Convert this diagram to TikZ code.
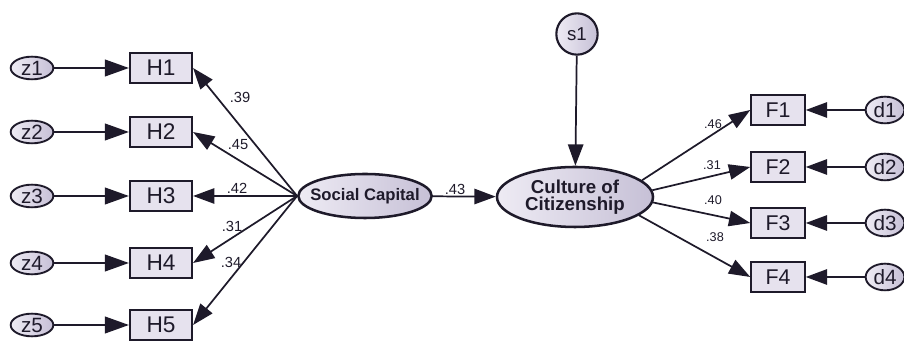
\documentclass[tikz,border=0pt]{standalone}
\usepackage{fontspec}
\setmainfont{Liberation Sans}
\usetikzlibrary{arrows.meta,shapes.geometric}
\definecolor{boxfill}{HTML}{E6E2EE}
\definecolor{ellL}{HTML}{EEEBF4}
\definecolor{ellR}{HTML}{C6C0D6}
\definecolor{ink}{HTML}{1E1A2A}
\begin{document}
\begin{tikzpicture}[x=0.75pt,y=-0.75pt,
  obs/.style={draw=ink,line width=1.6pt,fill=boxfill,minimum width=46.5pt,minimum height=22pt,inner sep=0pt,font=\fontsize{17}{17}\selectfont,text=ink},
  err/.style={ellipse,draw=ink,line width=1.4pt,left color=ellL,right color=ellR,minimum width=32pt,minimum height=17pt,inner sep=0pt,font=\fontsize{15.5}{15.5}\selectfont,text=ink},
  lat/.style={ellipse,draw=ink,line width=1.9pt,left color=ellL,right color=ellR,inner sep=0pt},
  latlab/.style={text=ink,font=\bfseries,align=center,inner sep=0pt},
  path/.style={draw=ink,line width=1.3pt,-{Triangle[length=16pt,width=11.5pt]}},
  bigpath/.style={draw=ink,line width=1.4pt,-{Triangle[length=18pt,width=12.5pt]}},
  coef/.style={font=\fontsize{11}{11}\selectfont,text=ink,inner sep=0pt},
  coefs/.style={font=\fontsize{9.5}{9.5}\selectfont,text=ink,inner sep=0pt}]
\useasboundingbox (0,0) rectangle (904,341);
% left indicators
\foreach \i/\y in {1/68,2/132,3/196,4/263,5/325}{
  \node[obs] (H\i) at (161,\y) {H\i};
  \node[err] (z\i) at (32,\y) {z\i};
  \draw[bigpath] (z\i) -- (H\i);
}
\node[lat,minimum width=100pt,minimum height=33pt,
  label={[latlab,font=\bfseries\fontsize{12.5}{12.5}\selectfont]center:Social Capital}] (sc) at (365,196) {};
\node[lat,minimum width=117pt,minimum height=45pt,
  label={[latlab,font=\bfseries\fontsize{14}{14}\selectfont]center:Culture of\\[-1pt]Citizenship}] (cc) at (575,197) {};
\node[ellipse,draw=ink,line width=1.6pt,left color=ellL,right color=ellR,minimum width=31pt,minimum height=31pt,inner sep=0pt,font=\fontsize{14}{14}\selectfont,text=ink] (s1) at (577,34) {s1};
\draw[path] (s1) -- (cc);
\draw[path] (sc) -- (cc);
\foreach \i in {1,...,5}{ \draw[path] (sc.west) -- (H\i.east); }
% right indicators
\foreach \i/\y in {1/110,2/167,3/223,4/277}{
  \node[obs,minimum width=40pt,font=\fontsize{16}{16}\selectfont] (F\i) at (778,\y) {F\i};
  \node[err,minimum width=29pt,minimum height=20pt,font=\fontsize{15.5}{15.5}\selectfont] (d\i) at (885,\y) {d\i};
  \draw[path] (d\i) -- (F\i);
}
\draw[path] (cc.14) -- (F1.west);
\draw[path] (cc.5) -- (F2.west);
\draw[path] (cc.-4) -- (F3.west);
\draw[path] (cc.-16) -- (F4.west);
% coefficients
\node[coef] (c1) at (240,97) {.39};
\node[coef] (c2) at (238,145) {.45};
\node[coef] (c3) at (237,188) {.42};
\node[coef] (c4) at (232,226) {.31};
\node[coef] (c5) at (231,262) {.34};
\node[coef] (c6) at (455,189) {.43};
\node[coefs] (c7) at (713,124) {.46};
\node[coefs] (c8) at (712,165) {.31};
\node[coefs] (c9) at (713,200) {.40};
\node[coefs] (c10) at (715,237) {.38};
\end{tikzpicture}
\end{document}
